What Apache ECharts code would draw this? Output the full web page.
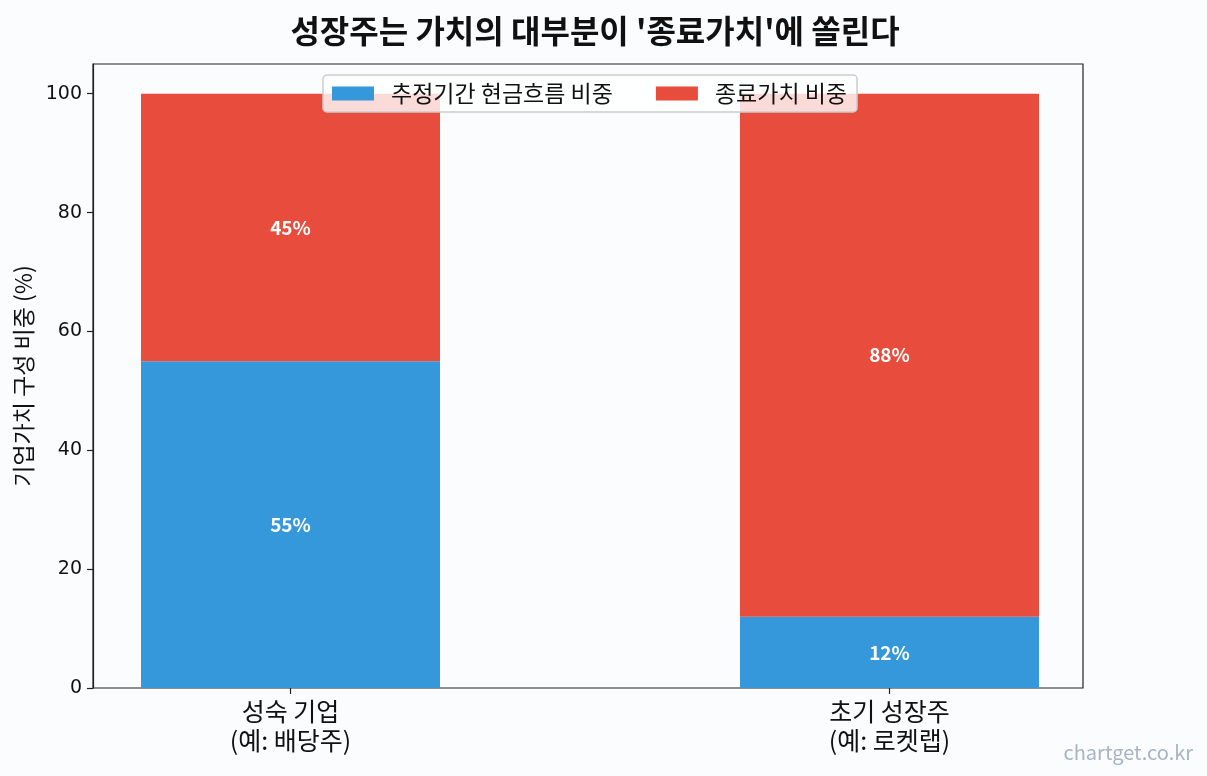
<!DOCTYPE html>
<html><head><meta charset="utf-8">
<script src="https://cdn.jsdelivr.net/npm/echarts@6/dist/echarts.min.js"></script>
<style>html,body{margin:0;padding:0;background:#fbfcfe;}#c{width:1207px;height:776px;}</style>
</head><body><div id="c"></div>
<script>
// Slots on the x axis (boundaryGap off): the two bars sit on slots 1 and 4 of 0..5
const slots = ['', '성숙 기업\n(예: 배당주)', '', '', '초기 성장주\n(예: 로켓랩)', ''];
const barSlots = [1, 4];
const seriesNames = ['추정기간 현금흐름 비중', '종료가치 비중'];
const forecastShare = [55, 12];
const terminalShare = [45, 88];
const yTicks = [0, 20, 40, 60, 80, 100];

const FONT = '"Noto Sans CJK KR", "Noto Sans", sans-serif';
function toSlots(vals) {
  const arr = slots.map(() => null);
  barSlots.forEach((s, i) => { arr[s] = vals[i]; });
  return arr;
}
const chart = echarts.init(document.getElementById('c'), null, {renderer: 'canvas'});
const lbl = {show: true, position: 'inside', color: '#fff', fontWeight: 'bold', fontSize: 19, fontFamily: FONT, formatter: p => p.value + '%'};
const isBarSlot = (idx) => barSlots.indexOf(idx) >= 0;
const AX = '#222';
chart.setOption({
  backgroundColor: '#fbfcfe',
  textStyle: {fontFamily: FONT},
  title: {text: "성장주는 가치의 대부분이 '종료가치'에 쏠린다", left: 590, textAlign: 'center', top: 10,
    textStyle: {fontSize: 32, fontWeight: 'bold', color: '#111', fontFamily: FONT}},
  graphic: [{type: 'text', right: 14, bottom: 14, style: {text: 'chartget.co.kr', fill: '#aab4c2', fontSize: 20, fontFamily: FONT}}],
  legend: {top: 75, left: 323, data: seriesNames, itemWidth: 42, itemHeight: 14, itemGap: 43,
    icon: 'rect',
    backgroundColor: 'rgba(255,255,255,0.8)', borderColor: '#ccc', borderWidth: 1.5, borderRadius: 4, padding: [7, 10, 7, 9],
    textStyle: {fontSize: 23, color: '#111', fontFamily: FONT, padding: [0, 0, 0, 12]}},
  grid: [
    {left: 93, right: 124, top: 64, bottom: 88, show: true, borderColor: AX, borderWidth: 1.2, backgroundColor: 'transparent'},
    {left: 90.83, right: 117.83, top: 64, bottom: 88, show: false}
  ],
  xAxis: [
    {gridIndex: 0, type: 'value', min: 0, max: 1, show: false},
    {gridIndex: 1, type: 'category', data: slots, boundaryGap: false,
      axisLine: {show: false},
      splitLine: {show: false},
      axisTick: {show: true, interval: (i) => isBarSlot(i), length: 6, lineStyle: {color: AX, width: 1.2}},
      axisLabel: {interval: (i) => isBarSlot(i), fontSize: 25, color: '#111', lineHeight: 29, margin: 9, fontFamily: FONT}}
  ],
  yAxis: [
    {gridIndex: 0, type: 'value', min: 0, max: 105,
      name: '기업가치 구성 비중 (%)', nameLocation: 'middle', nameGap: 58, nameTextStyle: {fontSize: 23, color: '#111', fontFamily: FONT},
      axisLine: {show: true, lineStyle: {color: AX, width: 1.2}},
      splitLine: {show: false},
      axisTick: {show: true, customValues: yTicks, length: 6, lineStyle: {color: AX, width: 1.2}},
      axisLabel: {customValues: yTicks, fontSize: 19, color: '#111', margin: 11, fontFamily: '"DejaVu Sans", sans-serif'}},
    {gridIndex: 1, type: 'value', min: 0, max: 105, show: false}
  ],
  series: [
    {name: seriesNames[0], type: 'bar', stack: 'a', xAxisIndex: 1, yAxisIndex: 1, barWidth: 299, itemStyle: {color: '#3498db'},
      data: toSlots(forecastShare), label: lbl},
    {name: seriesNames[1], type: 'bar', stack: 'a', xAxisIndex: 1, yAxisIndex: 1, barWidth: 299, itemStyle: {color: '#e74c3c'},
      data: toSlots(terminalShare), label: lbl}
  ]
});
</script></body></html>
